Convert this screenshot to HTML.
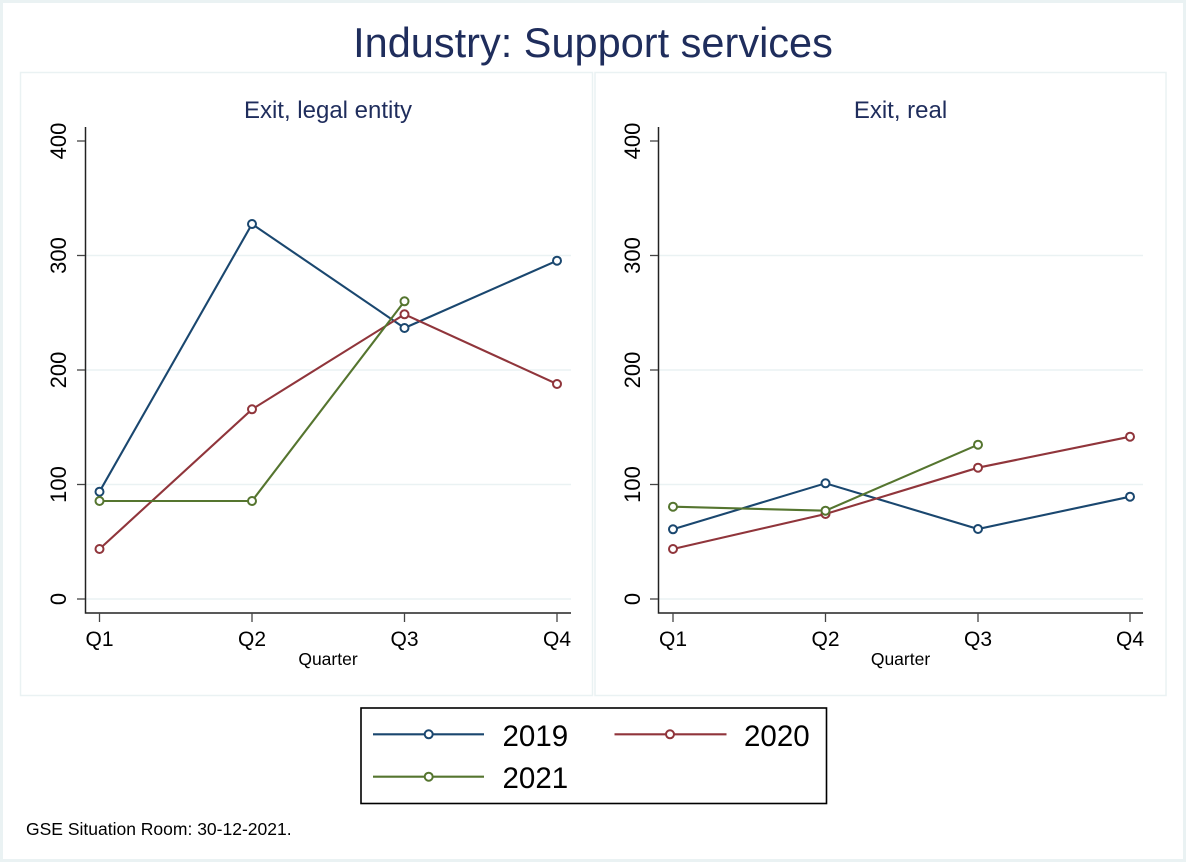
<!DOCTYPE html>
<html><head><meta charset="utf-8"><style>
html,body{margin:0;padding:0;background:#fff;}
svg{display:block;}
text{font-family:"Liberation Sans",Arial,sans-serif;}
</style></head><body>
<svg width="1186" height="862" viewBox="0 0 1186 862" xmlns="http://www.w3.org/2000/svg">
<rect x="0" y="0" width="1186" height="862" fill="#fff"/>
<rect x="1.5" y="1.5" width="1183" height="859" fill="none" stroke="#eaf2f3" stroke-width="3"/>
<text x="593" y="57" font-size="41.5" fill="#1f2d5c" text-anchor="middle">Industry: Support services</text>
<!-- panels -->
<rect x="20.5" y="72.5" width="572" height="623" fill="#fff" stroke="#eaf2f3" stroke-width="1.5"/>
<rect x="595" y="72.5" width="571" height="623" fill="#fff" stroke="#eaf2f3" stroke-width="1.5"/>
<text x="328" y="118" font-size="24" fill="#1f2d5c" text-anchor="middle">Exit, legal entity</text>
<text x="900.5" y="118" font-size="24" fill="#1f2d5c" text-anchor="middle">Exit, real</text>
<!-- gridlines -->
<g stroke="#eaf2f3" stroke-width="1.6">
<line x1="86" y1="599" x2="571" y2="599"/><line x1="86" y1="484.5" x2="571" y2="484.5"/><line x1="86" y1="370" x2="571" y2="370"/><line x1="86" y1="255.5" x2="571" y2="255.5"/>
<line x1="659" y1="599" x2="1143" y2="599"/><line x1="659" y1="484.5" x2="1143" y2="484.5"/><line x1="659" y1="370" x2="1143" y2="370"/><line x1="659" y1="255.5" x2="1143" y2="255.5"/>
</g>
<!-- axes -->
<g stroke="#222" stroke-width="1.5" fill="none">
<polyline points="85.5,127 85.5,613 571,613"/>
<polyline points="658.5,127 658.5,613 1143,613"/>
</g>
<g stroke="#444" stroke-width="1.3">
<line x1="77" y1="599" x2="85" y2="599"/><line x1="77" y1="484.5" x2="85" y2="484.5"/><line x1="77" y1="370" x2="85" y2="370"/><line x1="77" y1="255.5" x2="85" y2="255.5"/><line x1="77" y1="141" x2="85" y2="141"/>
<line x1="650" y1="599" x2="658" y2="599"/><line x1="650" y1="484.5" x2="658" y2="484.5"/><line x1="650" y1="370" x2="658" y2="370"/><line x1="650" y1="255.5" x2="658" y2="255.5"/><line x1="650" y1="141" x2="658" y2="141"/>
<line x1="99.5" y1="613" x2="99.5" y2="622"/><line x1="252" y1="613" x2="252" y2="622"/><line x1="404.5" y1="613" x2="404.5" y2="622"/><line x1="557" y1="613" x2="557" y2="622"/>
<line x1="673" y1="613" x2="673" y2="622"/><line x1="825.5" y1="613" x2="825.5" y2="622"/><line x1="978" y1="613" x2="978" y2="622"/><line x1="1130" y1="613" x2="1130" y2="622"/>
</g>
<!-- y tick labels -->
<g font-size="22" fill="#000" text-anchor="middle">
<text transform="translate(66,599) rotate(-90)">0</text>
<text transform="translate(66,484.5) rotate(-90)">100</text>
<text transform="translate(66,370) rotate(-90)">200</text>
<text transform="translate(66,255.5) rotate(-90)">300</text>
<text transform="translate(66,141) rotate(-90)">400</text>
<text transform="translate(640,599) rotate(-90)">0</text>
<text transform="translate(640,484.5) rotate(-90)">100</text>
<text transform="translate(640,370) rotate(-90)">200</text>
<text transform="translate(640,255.5) rotate(-90)">300</text>
<text transform="translate(640,141) rotate(-90)">400</text>
</g>
<g font-size="21" fill="#000" text-anchor="middle">
<text x="99.5" y="646">Q1</text><text x="252" y="646">Q2</text><text x="404.5" y="646">Q3</text><text x="557" y="646">Q4</text>
<text x="673" y="646">Q1</text><text x="825.5" y="646">Q2</text><text x="978" y="646">Q3</text><text x="1130" y="646">Q4</text>
</g>
<text x="328" y="665" font-size="17.5" fill="#000" text-anchor="middle">Quarter</text>
<text x="900.5" y="665" font-size="17.5" fill="#000" text-anchor="middle">Quarter</text>
<!-- series -->
<g fill="none" stroke-width="2.1">
<polyline stroke="#1a476f" points="99.5,491.7 252,224 404.5,328 557,260.7"/>
<polyline stroke="#90353b" points="99.5,549 252,409.3 404.5,314.3 557,384"/>
<polyline stroke="#55752f" points="99.5,501 252,501 404.5,301.3"/>
<polyline stroke="#1a476f" points="673,529.3 825.5,483.3 978,529 1130,496.7"/>
<polyline stroke="#90353b" points="673,549 825.5,514 978,467.7 1130,436.7"/>
<polyline stroke="#55752f" points="673,506.7 825.5,510.7 978,444.7"/>
</g>
<g fill="#fff" stroke-width="2">
<g stroke="#1a476f">
<circle cx="99.5" cy="491.7" r="4"/><circle cx="252" cy="224" r="4"/><circle cx="404.5" cy="328" r="4"/><circle cx="557" cy="260.7" r="4"/>
<circle cx="673" cy="529.3" r="4"/><circle cx="825.5" cy="483.3" r="4"/><circle cx="978" cy="529" r="4"/><circle cx="1130" cy="496.7" r="4"/>
</g>
<g stroke="#90353b">
<circle cx="99.5" cy="549" r="4"/><circle cx="252" cy="409.3" r="4"/><circle cx="404.5" cy="314.3" r="4"/><circle cx="557" cy="384" r="4"/>
<circle cx="673" cy="549" r="4"/><circle cx="825.5" cy="514" r="4"/><circle cx="978" cy="467.7" r="4"/><circle cx="1130" cy="436.7" r="4"/>
</g>
<g stroke="#55752f">
<circle cx="99.5" cy="501" r="4"/><circle cx="252" cy="501" r="4"/><circle cx="404.5" cy="301.3" r="4"/>
<circle cx="673" cy="506.7" r="4"/><circle cx="825.5" cy="510.7" r="4"/><circle cx="978" cy="444.7" r="4"/>
</g>
</g>
<!-- legend -->
<rect x="361" y="708" width="465.5" height="95.5" fill="#fff" stroke="#000" stroke-width="1.6"/>
<g stroke-width="2.1">
<line x1="373" y1="734.3" x2="484" y2="734.3" stroke="#1a476f"/>
<line x1="614.5" y1="734.3" x2="726.5" y2="734.3" stroke="#90353b"/>
<line x1="373" y1="776.7" x2="484" y2="776.7" stroke="#55752f"/>
</g>
<g fill="#fff" stroke-width="2">
<circle cx="428.7" cy="734.3" r="4" stroke="#1a476f"/>
<circle cx="670" cy="734.3" r="4" stroke="#90353b"/>
<circle cx="428.7" cy="776.7" r="4" stroke="#55752f"/>
</g>
<g font-size="29.5" fill="#000">
<text x="502.5" y="746">2019</text>
<text x="744" y="746">2020</text>
<text x="502.5" y="788">2021</text>
</g>
<text x="26" y="835" font-size="17.5" fill="#000">GSE Situation Room: 30-12-2021.</text>
</svg>
</body></html>
